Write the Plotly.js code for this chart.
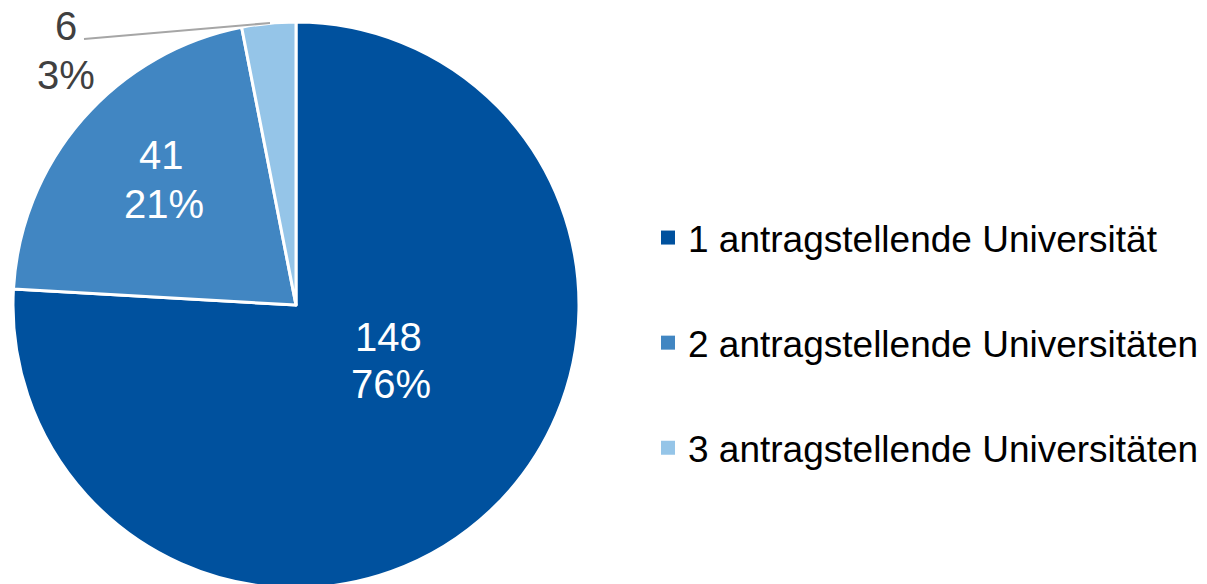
<!DOCTYPE html>
<html>
<head>
<meta charset="utf-8">
<script src="https://cdn.plot.ly/plotly-3.0.1.min.js"></script>
<style>
html,body{margin:0;padding:0;overflow:hidden;background:#fff;}
#chart{width:1207px;height:610px;}
</style>
</head>
<body>
<div id="chart"></div>
<script>
const categories = ["1 antragstellende Universität", "2 antragstellende Universitäten", "3 antragstellende Universitäten"];
const values = [148, 41, 6];
const colors = ["#00519E", "#4186C2", "#95C5E8"];

const total = values.reduce((a, b) => a + b, 0);
const percents = values.map(v => Math.round(v / total * 100) + "%");
const fontFamily = "Liberation Sans, Arial, sans-serif";
const W = 1207, H = 610;

const pie = {
  type: "pie",
  labels: categories,
  values: values,
  sort: false,
  direction: "clockwise",
  rotation: 0,
  marker: {colors: colors, line: {color: "#ffffff", width: 3}},
  textinfo: "none",
  hoverinfo: "label+value+percent",
  showlegend: false,
  domain: {x: [13 / W, 579 / W], y: [22 / H, 588 / H]}
};

const legendTraces = categories.map((name, i) => ({
  type: "scatter",
  mode: "markers",
  x: [null],
  y: [null],
  name: name,
  legendgroup: "g" + i,
  marker: {symbol: "square", size: 14, color: colors[i]},
  showlegend: true,
  hoverinfo: "skip"
}));

// label placement (pixel positions of value line and percent line for each slice)
const labelPos = [
  {v: [389, 336.5], p: [390.5, 384], color: "#ffffff"},
  {v: [161, 155], p: [163.5, 204], color: "#ffffff"},
  {v: [66, 26], p: [66, 74.5], color: "#404040"}
];

const annotations = [];
labelPos.forEach((lp, i) => {
  annotations.push({
    xref: "paper", yref: "paper", x: lp.v[0] / W, y: 1 - lp.v[1] / H,
    xanchor: "center", yanchor: "middle", showarrow: false,
    text: String(values[i]),
    font: {family: fontFamily, size: 40, color: lp.color}
  });
  annotations.push({
    xref: "paper", yref: "paper", x: lp.p[0] / W, y: 1 - lp.p[1] / H,
    xanchor: "center", yanchor: "middle", showarrow: false,
    text: percents[i],
    font: {family: fontFamily, size: 40, color: lp.color}
  });
});

const layout = {
  width: W,
  height: H,
  margin: {l: 0, r: 0, t: 0, b: 0},
  paper_bgcolor: "#ffffff",
  plot_bgcolor: "rgba(0,0,0,0)",
  xaxis: {visible: false, range: [0, 1]},
  yaxis: {visible: false, range: [0, 1]},
  showlegend: true,
  legend: {
    x: 648 / W, xanchor: "left",
    y: 1 - 207 / H, yanchor: "top",
    font: {family: fontFamily, size: 37, color: "#000000"},
    traceorder: "grouped",
    tracegroupgap: 54,
    bgcolor: "rgba(0,0,0,0)",
    itemclick: false
  },
  annotations: annotations,
  shapes: [{
    type: "line", xref: "paper", yref: "paper",
    x0: 84 / W, y0: 1 - 39 / H,
    x1: 270 / W, y1: 1 - 23 / H,
    line: {color: "#A6A6A6", width: 2}
  }]
};

Plotly.newPlot("chart", [pie].concat(legendTraces), layout, {displayModeBar: false, staticPlot: true});
</script>
</body>
</html>
